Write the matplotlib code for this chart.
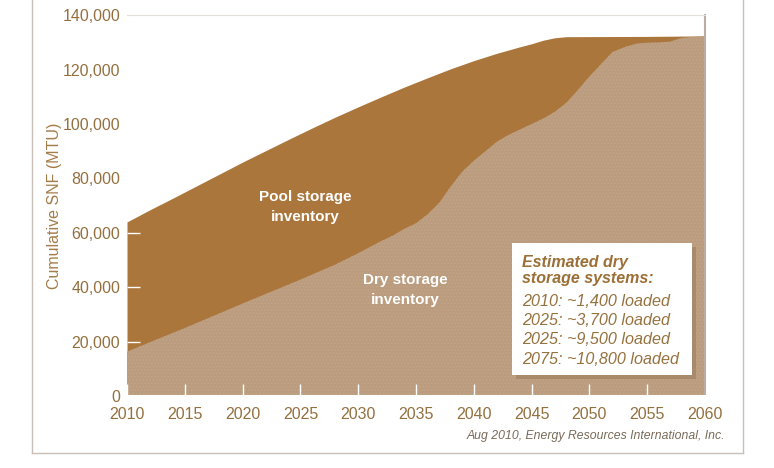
import matplotlib.pyplot as plt
from matplotlib.lines import Line2D
from matplotlib.patches import Rectangle

# cumulative spent nuclear fuel (MTU)
years_total = [2010, 2012, 2014, 2016, 2018, 2020, 2022, 2024, 2026, 2028, 2030, 2032, 2034,
               2036, 2038, 2040, 2042, 2044, 2045, 2046, 2047, 2048, 2055, 2060]
total = [64000, 68500, 72800, 77200, 81600, 86000, 90200, 94400, 98500, 102500, 106300, 110000, 113600,
         117000, 120300, 123300, 126000, 128400, 129500, 130800, 131700, 132100, 132200, 132400]

years_dry = [2010, 2012, 2015, 2020, 2025, 2028, 2030, 2032, 2033, 2034, 2035, 2036, 2037, 2038,
             2039, 2040, 2041, 2042, 2043, 2044, 2045, 2046, 2047, 2048, 2049, 2050,
             2051, 2052, 2053, 2054, 2055, 2056, 2057, 2058, 2060]
dry = [16300, 19800, 25000, 34000, 42800, 48300, 52500, 57000, 59000, 61500, 63500, 66800, 71000, 77000,
       82500, 86500, 90000, 93500, 96000, 98000, 100000, 102000, 104500, 107800, 112500, 117500,
       122000, 126500, 128200, 129500, 129900, 130000, 130300, 131700, 132300]

xticks = list(range(2010, 2061, 5))
yticks = list(range(0, 140001, 20000))

box_lines = ["2010: ~1,400 loaded", "2025: ~3,700 loaded", "2025: ~9,500 loaded", "2075: ~10,800 loaded"]

plt.rcParams['font.family'] = ['Liberation Sans', 'DejaVu Sans']
plt.rcParams['hatch.linewidth'] = 0.6

W, H = 774, 468
def px(x, y):
    return (x / W, 1 - y / H)

pool_col = '#AB763B'
dry_col = '#BB9C7E'
txt_col = '#94703F'

fig = plt.figure(figsize=(7.74, 4.68), dpi=100)
ax = fig.add_axes([127 / W, 1 - 396 / H, 578 / W, (396 - 15.2) / H])

ax.fill_between(years_total, 0, total, color=pool_col, lw=0, zorder=1)
ax.fill_between(years_dry, 0, dry, facecolor=dry_col, edgecolor='#C3A689', hatch='.....', lw=0, zorder=1.5)

ax.set_xlim(2010, 2060)
ax.set_ylim(0, 140000)
ax.set_xticks(xticks)
ax.set_yticks(yticks)
ax.set_yticklabels(['0' if v == 0 else f'{v:,}' for v in yticks])
ax.tick_params(axis='both', direction='in', color='white', length=9, width=1,
               labelcolor=txt_col, labelsize=11.5)
ax.tick_params(axis='x', pad=8)
ax.tick_params(axis='y', pad=5)

ax.spines['left'].set_visible(False)
ax.spines['bottom'].set_color('white')
ax.spines['bottom'].set_linewidth(1.5)
ax.spines['top'].set_color('#E4E0DA')
ax.spines['top'].set_linewidth(0.8)
ax.spines['right'].set_color('#B8AEA4')
ax.spines['right'].set_linewidth(1.5)

ax.set_ylabel('Cumulative SNF (MTU)', color='#A47C4A', fontsize=11.5, labelpad=0)

# in-chart labels
fig.text(*px(305, 197), 'Pool storage', color='white', fontsize=11, fontweight='bold', ha='center', va='center')
fig.text(*px(305, 217), 'inventory', color='white', fontsize=11, fontweight='bold', ha='center', va='center')
fig.text(*px(405, 280), 'Dry storage', color='white', fontsize=11, fontweight='bold', ha='center', va='center')
fig.text(*px(405, 300), 'inventory', color='white', fontsize=11, fontweight='bold', ha='center', va='center')

# annotation box with shadow
bx0, by0, bx1, by1 = 512, 243, 692, 375
fig.add_artist(Rectangle(px(bx0 + 4, by1 + 4), (bx1 - bx0) / W, (by1 - by0) / H,
                         transform=fig.transFigure, facecolor='#9A7A5A', alpha=0.55, lw=0, zorder=3))
fig.add_artist(Rectangle(px(bx0, by1), (bx1 - bx0) / W, (by1 - by0) / H,
                         transform=fig.transFigure, facecolor='white', lw=0, zorder=4))
fig.text(*px(522, 262), 'Estimated dry', color='#9C6F36', fontsize=11.5, fontweight='bold',
         fontstyle='italic', va='center', zorder=5)
fig.text(*px(522, 279), 'storage systems:', color='#9C6F36', fontsize=11.5, fontweight='bold',
         fontstyle='italic', va='center', zorder=5)
for i, line in enumerate(box_lines):
    fig.text(*px(522, 301 + i * 19.4), line, color='#96723F', fontsize=11.6,
             fontstyle='italic', va='center', zorder=5)

fig.text(*px(725, 436), 'Aug 2010, Energy Resources International, Inc.', color='#7A6A58',
         fontsize=8.8, fontstyle='italic', ha='right', va='center')

# outer frame
fc = '#C8C0B8'
fig.add_artist(Line2D([32 / W, 32 / W], [1, 1 - 453 / H], transform=fig.transFigure, color=fc, lw=1))
fig.add_artist(Line2D([32 / W, 743 / W], [1 - 453 / H, 1 - 453 / H], transform=fig.transFigure, color=fc, lw=1))
fig.add_artist(Line2D([743 / W, 743 / W], [1, 1 - 453 / H], transform=fig.transFigure, color=fc, lw=1))

fig.savefig('out.png', dpi=100)
